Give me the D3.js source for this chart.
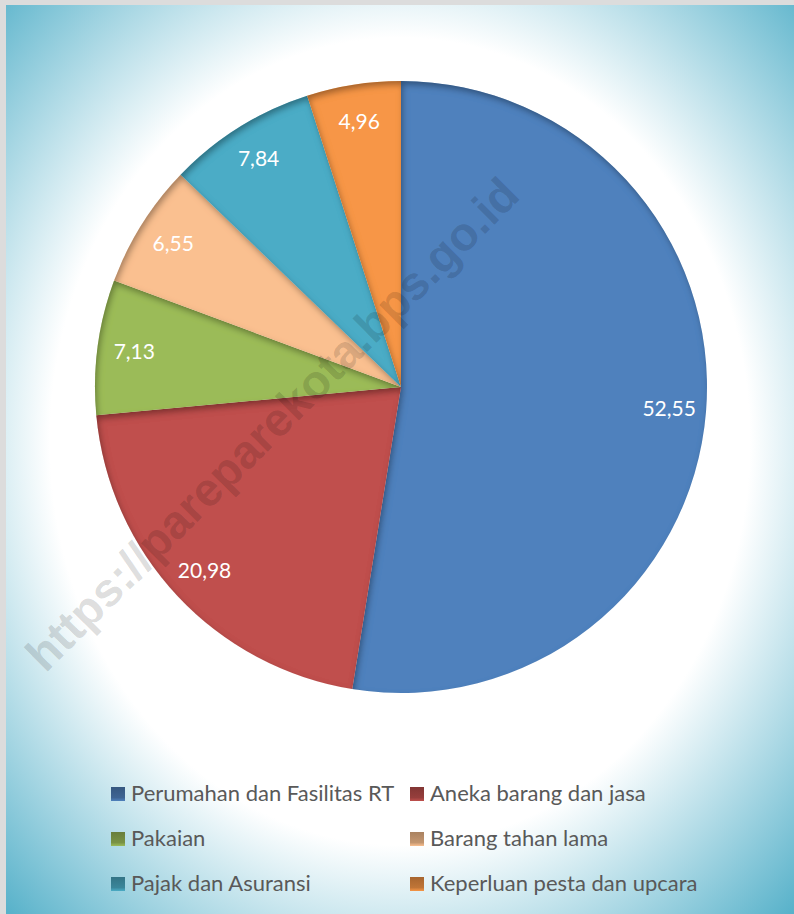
<!DOCTYPE html>
<html>
<head>
<meta charset="utf-8">
<script src="https://cdn.jsdelivr.net/npm/d3@7"></script>
<style>
  html, body { margin: 0; padding: 0; background: #fff; }
  svg { display: block; }
</style>
</head>
<body>
<svg id="chart" width="794" height="914"></svg>
<script>
// ---- data ----
const categories = [
  "Perumahan dan Fasilitas RT",
  "Aneka barang dan jasa",
  "Pakaian",
  "Barang tahan lama",
  "Pajak dan Asuransi",
  "Keperluan pesta dan upcara"
];
const values = [52.55, 20.98, 7.13, 6.55, 7.84, 4.96];
const colors = ["#4F81BD", "#C0504D", "#9BBB59", "#FAC090", "#4BACC6", "#F79646"];
const watermarkText = "https://pareparekota.bps.go.id";

// ---- layout ----
const W = 794, H = 914;
const cx = 401, cy = 387, R = 306, labelR = 269;

const svg = d3.select("#chart");
const defs = svg.append("defs");

// background gradient
const bg = defs.append("radialGradient").attr("id", "bgGrad")
  .attr("cx", 0.5).attr("cy", 0.48).attr("r", 0.74);
bg.append("stop").attr("offset", 0).attr("stop-color", "#ffffff");
bg.append("stop").attr("offset", 0.6).attr("stop-color", "#ffffff");
bg.append("stop").attr("offset", 1).attr("stop-color", "#4BACC6");

// inner shadow filter for slices
const f = defs.append("filter").attr("id", "innerShadow")
  .attr("x", "-20%").attr("y", "-20%").attr("width", "140%").attr("height", "140%");
f.append("feComponentTransfer").attr("in", "SourceAlpha").attr("result", "inv")
  .append("feFuncA").attr("type", "table").attr("tableValues", "1 0");
f.append("feGaussianBlur").attr("in", "inv").attr("stdDeviation", 3).attr("result", "blur");
f.append("feOffset").attr("in", "blur").attr("dx", 2).attr("dy", 3.5).attr("result", "off");
f.append("feFlood").attr("flood-color", "#000").attr("flood-opacity", 0.6).attr("result", "col");
f.append("feComposite").attr("in", "col").attr("in2", "off").attr("operator", "in").attr("result", "sh");
f.append("feComposite").attr("in", "sh").attr("in2", "SourceAlpha").attr("operator", "in").attr("result", "shIn");
const fm = f.append("feMerge");
fm.append("feMergeNode").attr("in", "SourceGraphic");
fm.append("feMergeNode").attr("in", "shIn");

// legend swatch gradients
colors.forEach((c, i) => {
  const g = defs.append("linearGradient").attr("id", "sw" + i)
    .attr("x1", 0).attr("y1", 0).attr("x2", 0).attr("y2", 1);
  g.append("stop").attr("offset", 0).attr("stop-color", d3.color(c).darker(1.1));
  g.append("stop").attr("offset", 0.75).attr("stop-color", d3.color(c).darker(0.7));
  g.append("stop").attr("offset", 1).attr("stop-color", c);
});

// frame + background
svg.append("rect").attr("width", W).attr("height", H).attr("fill", "#dcdcdc");
svg.append("rect").attr("x", 6).attr("y", 5).attr("width", W - 6).attr("height", H - 5)
  .attr("fill", "url(#bgGrad)");

// ---- pie ----
const pie = d3.pie().sort(null).value(d => d);
const arcs = pie(values);
const arc = d3.arc().innerRadius(0).outerRadius(R);
const labelArc = d3.arc().innerRadius(labelR).outerRadius(labelR);

const gPie = svg.append("g").attr("transform", `translate(${cx},${cy})`);
gPie.selectAll("path.slice").data(arcs).enter().append("path")
  .attr("class", "slice")
  .attr("d", arc)
  .attr("fill", (d, i) => colors[i])
  .attr("filter", "url(#innerShadow)");

gPie.selectAll("text.lbl").data(arcs).enter().append("text")
  .attr("class", "lbl")
  .attr("transform", d => `translate(${labelArc.centroid(d)})`)
  .attr("text-anchor", "middle")
  .attr("dy", "0.36em")
  .attr("fill", "#ffffff")
  .style("font-family", "Lato, 'Open Sans', sans-serif")
  .style("font-size", "21px")
  .text(d => d.data.toFixed(2).replace(".", ","));

// ---- watermark ----
svg.append("text")
  .attr("transform", "translate(272,424) rotate(-45)")
  .attr("text-anchor", "middle")
  .attr("dy", "0.35em")
  .attr("fill", "#000")
  .attr("fill-opacity", 0.14)
  .style("font-family", "'Liberation Sans', Arial, sans-serif")
  .style("font-weight", "bold")
  .style("font-size", "47px")
  .text(watermarkText);

// ---- legend ----
const legCols = [111, 410];
const legRowY = [801, 846, 891];
const gLeg = svg.append("g");
categories.forEach((name, i) => {
  const x = legCols[i % 2], y = legRowY[Math.floor(i / 2)];
  gLeg.append("rect").attr("x", x).attr("y", y - 14).attr("width", 14).attr("height", 14)
    .attr("fill", `url(#sw${i})`);
  gLeg.append("text").attr("x", x + 20).attr("y", y)
    .attr("fill", "#595959")
    .style("font-family", "Lato, 'Open Sans', sans-serif")
    .style("font-size", "22px")
    .text(name);
});
</script>
</body>
</html>
